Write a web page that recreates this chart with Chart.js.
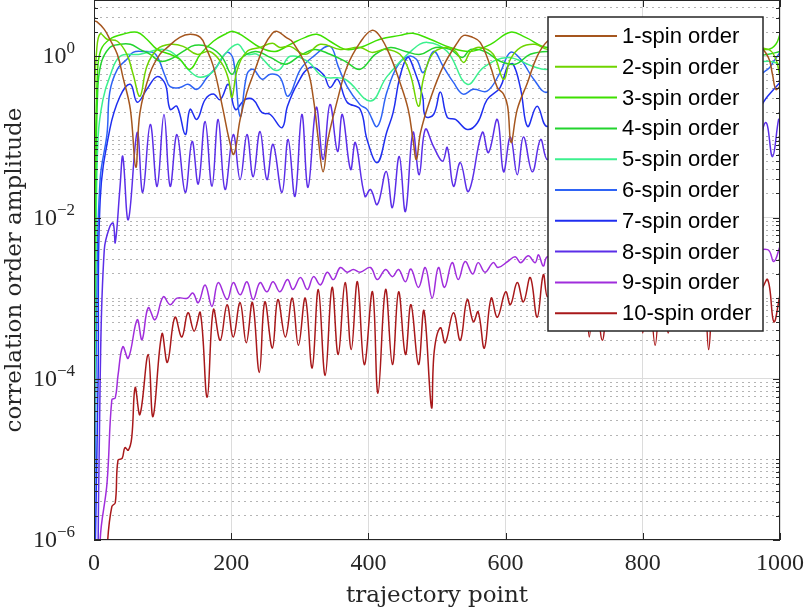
<!DOCTYPE html>
<html>
<head>
<meta charset="utf-8">
<script src="https://cdn.jsdelivr.net/npm/chart.js@4.4.0/dist/chart.umd.min.js"></script>
<style>
  html, body { margin: 0; padding: 0; background: #fff; }
</style>
</head>
<body>
<canvas id="chart" width="805" height="611"></canvas>
<script>
"use strict";

// values: [trajectory point, amplitude]
const spin1 = [[0,2.72],[4,2.7],[15,2.16],[23,1.63],[34,1.06],[42,0.56],[53,0.22],[61,0.042],[67,0.2],[82,0.63],[96,1.06],[107,1.29],[125,1.72],[140,1.88],[155,1.72],[163,1.29],[174,0.75],[188,0.22],[197,0.093],[204,0.061],[213,0.165],[223,0.36],[235,0.69],[247,1.29],[260,1.93],[267,2.04],[280,1.72],[290,1.49],[311,0.69],[320,0.29],[327,0.093],[334,0.037],[341,0.093],[355,0.29],[369,0.75],[388,1.49],[405,2.1],[417,1.77],[432,1.0],[446,0.475],[458,0.22],[465,0.093],[470,0.0525],[476,0.114],[490,0.29],[509,0.75],[530,1.49],[539,1.82],[552,1.72],[563,1.49],[578,0.75],[588,0.41],[597,0.34],[603,0.24],[608,0.085],[617,0.22],[632,0.475],[646,1.0],[661,1.54],[680,1.8],[700,1.5],[720,0.6],[740,0.06],[760,0.5],[790,1.5],[810,1.9],[835,1.4],[855,0.5],[870,0.07],[890,0.5],[915,1.5],[940,1.9],[965,1.5],[983,0.97],[989,0.6],[994,0.39],[1000,0.42]];
const spin2 = [[0,0.25],[4,1.22],[9,1.9],[19,1.63],[34,1.54],[48,1.06],[57,0.6],[67,0.32],[77,0.75],[92,1.22],[111,1.41],[130,1.33],[150,1.06],[169,1.15],[187,0.8],[196,0.52],[201,0.31],[209,0.69],[223,1.15],[242,1.29],[260,1.45],[271,1.29],[286,1.33],[308,1.06],[330,1.41],[359,1.22],[388,1.29],[405,1.12],[425,1.22],[446,1.06],[461,0.6],[473,0.24],[480,0.52],[493,1.06],[512,1.29],[527,1.15],[539,0.84],[549,1.15],[563,1.29],[582,1.06],[597,0.52],[607,0.92],[622,1.29],[643,1.41],[661,1.22],[700,1.2],[750,0.5],[800,1.2],[850,1.1],[900,0.6],[950,1.2],[983,1.22],[994,0.92],[1000,0.56]];
const spin3 = [[0,3e-4],[2,0.05],[5,0.6],[10,1.2],[23,1.63],[42,1.88],[63,1.99],[77,1.63],[92,1.22],[111,1.06],[125,0.92],[140,0.69],[155,1.06],[174,1.54],[191,1.88],[203,2.04],[220,1.72],[242,1.29],[264,1.15],[286,1.41],[308,1.72],[325,1.88],[344,1.54],[366,1.22],[388,1.29],[417,1.63],[446,1.82],[465,1.93],[490,1.63],[519,1.29],[549,1.15],[578,1.41],[607,1.99],[629,1.72],[661,1.29],[700,1.5],[750,1.9],[800,1.3],[850,1.6],[900,1.9],[950,1.3],[983,1.22],[994,1.41],[1000,1.88]];
const spin4 = [[0,1e-5],[2,0.01],[5,0.3],[10,0.8],[23,1.29],[38,1.41],[53,1.41],[67,1.22],[82,1.06],[96,0.87],[111,0.92],[130,1.15],[147,1.37],[169,1.29],[187,0.97],[201,0.6],[213,0.92],[235,1.15],[257,0.97],[279,0.8],[301,1.03],[322,1.22],[344,1.06],[366,0.87],[388,0.69],[410,1.06],[432,1.29],[454,1.15],[476,1.06],[498,1.29],[519,1.22],[537,0.97],[549,1.22],[570,1.15],[592,0.87],[614,0.8],[636,1.06],[661,1.15],[700,1.1],[750,0.9],[800,1.2],[850,0.8],[900,1.1],[950,1.0],[983,1.06],[1000,1.15]];
const spin5 = [[0,1e-6],[3,0.005],[6,0.1],[13,0.29],[23,0.56],[38,1.0],[67,1.06],[101,1.22],[121,1.0],[140,0.65],[155,0.55],[174,0.65],[188,1.0],[209,1.41],[223,1.06],[238,1.06],[261,0.69],[271,0.69],[286,1.0],[311,0.87],[334,0.56],[366,0.52],[403,0.28],[427,0.56],[465,1.22],[486,1.49],[515,1.15],[544,0.45],[568,0.73],[603,0.97],[640,0.75],[661,0.69],[700,0.9],[750,0.6],[800,1.0],[850,0.7],[900,0.5],[950,0.8],[983,0.87],[1000,0.8]];
const spin6 = [[0,1e-7],[4,1e-3],[9,0.03],[19,0.11],[23,0.36],[34,0.69],[48,0.92],[57,1.12],[71,1.15],[86,1.12],[93,0.97],[104,0.56],[111,0.42],[125,0.41],[137,0.45],[150,0.39],[165,0.55],[179,0.75],[194,1.12],[203,0.92],[213,0.18],[223,0.6],[232,0.69],[245,0.52],[257,0.6],[271,0.55],[283,0.32],[301,0.69],[320,1.0],[344,1.33],[356,0.75],[369,0.42],[388,0.25],[398,0.22],[413,0.135],[427,0.36],[442,0.75],[458,1.0],[470,0.92],[480,0.63],[495,1.15],[509,0.75],[524,0.475],[538,0.34],[553,0.39],[573,0.37],[592,0.63],[607,1.12],[622,0.92],[641,0.52],[661,0.36],[700,0.8],[750,0.35],[800,0.9],[850,0.4],[900,0.7],[950,0.5],[982,0.69],[991,0.87],[1000,1.12]];
const spin7 = [[0,1e-7],[6,1e-4],[9,0.0167],[23,0.124],[38,0.32],[53,0.45],[63,0.27],[77,0.39],[92,0.56],[104,0.45],[111,0.22],[121,0.24],[133,0.107],[140,0.22],[150,0.165],[162,0.29],[174,0.34],[184,0.29],[196,0.45],[206,0.22],[220,0.29],[232,0.29],[245,0.2],[257,0.19],[274,0.13],[282,0.24],[296,0.45],[315,0.73],[334,0.6],[344,0.41],[355,0.52],[369,0.27],[388,0.22],[398,0.093],[413,0.048],[427,0.117],[436,0.2],[446,0.56],[457,0.97],[465,0.75],[479,0.32],[483,0.18],[495,0.19],[505,0.36],[515,0.175],[527,0.165],[544,0.124],[559,0.15],[573,0.29],[592,0.41],[603,0.75],[611,0.8],[622,0.39],[632,0.135],[646,0.24],[661,0.135],[700,0.3],[750,0.1],[800,0.35],[850,0.12],[900,0.3],[950,0.15],[982,0.32],[1000,0.475]];
const spin8 = [[5,1e-7],[9,1e-4],[15,0.004],[23,0.0077],[28,0.0085],[31,0.0049],[38,0.0244],[42,0.0573],[50,0.0094],[63,0.114],[71,0.0205],[82,0.143],[92,0.0244],[102,0.19],[111,0.0244],[121,0.107],[133,0.0205],[143,0.088],[152,0.026],[162,0.156],[172,0.0244],[181,0.165],[191,0.0223],[203,0.107],[213,0.0296],[223,0.107],[232,0.032],[242,0.117],[252,0.0296],[261,0.081],[274,0.0205],[283,0.093],[293,0.0183],[303,0.19],[312,0.0237],[324,0.233],[334,0.0525],[344,0.253],[355,0.066],[362,0.19],[374,0.0394],[381,0.085],[395,0.0183],[403,0.0223],[413,0.0145],[426,0.0373],[435,0.0133],[445,0.0573],[454,0.0119],[465,0.114],[474,0.034],[483,0.124],[495,0.076],[508,0.05],[515,0.074],[524,0.0244],[534,0.048],[546,0.0211],[566,0.114],[575,0.064],[588,0.165],[597,0.037],[607,0.1],[617,0.034],[626,0.1],[639,0.037],[651,0.093],[661,0.0525],[680,0.1],[720,0.05],[760,0.1],[800,0.05],[840,0.1],[880,0.05],[920,0.1],[960,0.05],[979,0.151],[989,0.057],[998,0.165],[1000,0.16]];
const spin9 = [[0,1e-9],[9,1e-6],[19,5.1e-6],[26,5.5e-5],[31,5.8e-5],[35,1.1e-4],[42,2.5e-4],[50,1.8e-4],[63,5.4e-4],[70,3.05e-4],[79,7.6e-4],[89,5.4e-4],[101,1.04e-3],[111,8.3e-4],[121,1.0e-3],[136,1.0e-3],[144,1.16e-3],[152,8.8e-4],[162,1.46e-3],[172,7.9e-4],[181,1.56e-3],[194,9.6e-4],[203,1.56e-3],[213,1.1e-3],[223,1.6e-3],[232,9.6e-4],[242,1.56e-3],[252,1.2e-3],[261,1.6e-3],[271,1.2e-3],[282,1.7e-3],[290,1.28e-3],[301,1.8e-3],[311,1.28e-3],[320,1.85e-3],[330,1.46e-3],[340,2.1e-3],[349,1.7e-3],[359,2.4e-3],[369,2.1e-3],[378,2.27e-3],[388,2.1e-3],[403,2.4e-3],[413,1.7e-3],[425,2.27e-3],[435,1.85e-3],[444,2.27e-3],[454,1.6e-3],[462,2.3e-3],[473,1.36e-3],[483,2.4e-3],[493,1.0e-3],[502,2.4e-3],[511,1.36e-3],[522,2.76e-3],[531,1.7e-3],[541,2.85e-3],[552,2.0e-3],[560,2.76e-3],[570,2.1e-3],[582,2.76e-3],[589,2.4e-3],[603,2.85e-3],[614,3.27e-3],[622,2.76e-3],[633,3.35e-3],[643,2.76e-3],[648,3.45e-3],[655,2.5e-3],[661,3.27e-3],[700,3.5e-3],[750,3.2e-3],[800,3.8e-3],[850,3.5e-3],[900,4e-3],[950,3.6e-3],[982,4.0e-3],[991,2.85e-3],[1000,4.4e-3]];
const spin10 = [[0,1e-9],[20,1e-6],[26,2.6e-6],[31,2.9e-6],[35,9.8e-6],[41,1.03e-5],[45,1.4e-5],[50,1.3e-5],[55,1.86e-5],[60,7.8e-5],[67,3.6e-5],[79,2.0e-4],[86,3.4e-5],[99,3.6e-4],[107,1.6e-4],[118,5.8e-4],[128,3.3e-4],[137,6.6e-4],[146,3.9e-4],[155,6.6e-4],[165,5.9e-5],[174,7.2e-4],[184,3.0e-4],[194,8.3e-4],[203,3.3e-4],[213,8.8e-4],[222,2.8e-4],[231,8.8e-4],[241,1.2e-4],[249,9.0e-4],[260,2.4e-4],[268,9.6e-4],[279,3.3e-4],[289,1.0e-3],[298,2.6e-4],[308,1.0e-3],[318,1.36e-4],[327,1.28e-3],[337,1.1e-4],[347,1.36e-3],[356,2.0e-4],[366,1.56e-3],[375,2.3e-4],[384,1.6e-3],[394,1.5e-4],[406,1.2e-3],[414,6.6e-5],[425,1.28e-3],[435,1.5e-4],[444,1.2e-3],[454,2.0e-4],[462,8.3e-4],[473,1.5e-4],[481,7.0e-4],[492,4.4e-5],[496,2.2e-4],[505,4.3e-4],[512,2.8e-4],[524,6.6e-4],[534,3.0e-4],[544,9.6e-4],[553,5.1e-4],[560,6.8e-4],[569,2.4e-4],[579,1.0e-3],[588,5.8e-4],[600,1.2e-3],[607,8.3e-4],[617,1.56e-3],[626,9.0e-4],[636,1.8e-3],[646,5.8e-4],[655,1.96e-3],[661,1.04e-3],[672,1.9e-3],[685,6e-4],[697,2e-3],[710,7e-4],[716,2e-3],[722,3.3e-4],[730,2e-3],[741,3.0e-4],[752,2e-3],[765,7e-4],[778,2e-3],[790,8e-4],[795,2e-3],[800,3.7e-4],[808,2e-3],[818,2.6e-4],[827,2e-3],[837,3.7e-4],[847,2e-3],[860,6e-4],[872,2e-3],[885,7e-4],[890,2e-3],[896,2.3e-4],[905,2e-3],[918,6e-4],[930,2e-3],[945,7e-4],[960,2e-3],[970,1.2e-3],[982,1.7e-3],[991,5.1e-4],[1000,1.1e-3]];

const seriesData = [spin1, spin2, spin3, spin4, spin5, spin6, spin7, spin8, spin9, spin10];
const seriesLabels = ['1-spin order', '2-spin order', '3-spin order', '4-spin order', '5-spin order',
                      '6-spin order', '7-spin order', '8-spin order', '9-spin order', '10-spin order'];
const seriesColors = ['#a5561e', '#6fd400', '#3ee000', '#22d42e', '#3cf08e',
                      '#2e63f5', '#1f2ef0', '#5b2ee8', '#a02ddc', '#a8181a'];

const xTicks = [0, 200, 400, 600, 800, 1000];
const yMajorTicks = [1e-6, 1e-4, 1e-2, 1];
const yTickBase = '10';
const yTickExps = ['\u22126', '\u22124', '\u22122', '0'];

const yMin = 1e-6, yMax = 5;
const serif = '"Liberation Serif", "DejaVu Serif", serif';
const titleSerif = '"DejaVu Serif", "Liberation Serif", serif';
const sans = '"Liberation Sans", Arial, sans-serif';
const axisColor = '#262626';

// minor grid: every 1..9 x 10^k that is not a labelled tick
const yMinorTicks = [];
for (let e = -6; e <= 0; e++) {
    for (let m = 1; m <= 9; m++) {
        const v = m * Math.pow(10, e);
        if (v > yMax) break;
        if (!yMajorTicks.some(t => Math.abs(t - v) / v < 1e-9)) yMinorTicks.push(v);
    }
}

const frameAndTicks = {
    id: 'frameAndTicks',
    afterDatasetsDraw(chart) {
        const { ctx, chartArea: a, scales } = chart;
        ctx.save();
        ctx.strokeStyle = axisColor;
        ctx.lineWidth = 1;
        ctx.beginPath();
        xTicks.forEach(v => {
            const px = Math.round(scales.x.getPixelForValue(v)) + 0.5;
            ctx.moveTo(px, a.bottom); ctx.lineTo(px, a.bottom - 7);
            ctx.moveTo(px, a.top); ctx.lineTo(px, a.top + 7);
        });
        yMinorTicks.forEach(v => {
            const py = Math.round(scales.y.getPixelForValue(v)) + 0.5;
            ctx.moveTo(a.left, py); ctx.lineTo(a.left + 4, py);
            ctx.moveTo(a.right, py); ctx.lineTo(a.right - 4, py);
        });
        yMajorTicks.forEach(v => {
            const py = Math.round(scales.y.getPixelForValue(v)) + 0.5;
            ctx.moveTo(a.left, py); ctx.lineTo(a.left + 7, py);
            ctx.moveTo(a.right, py); ctx.lineTo(a.right - 7, py);
        });
        ctx.stroke();
        ctx.strokeRect(Math.round(a.left) + 0.5, Math.round(a.top) + 0.5,
                       Math.round(a.width) - 1, Math.round(a.height) - 1);
        ctx.restore();
    }
};

const powerLabels = {
    id: 'powerLabels',
    afterDraw(chart) {
        const ctx = chart.ctx;
        const y = chart.scales.y;
        const right = chart.chartArea.left - 19;
        ctx.save();
        ctx.fillStyle = axisColor;
        ctx.textBaseline = 'alphabetic';
        yMajorTicks.forEach((v, i) => {
            const py = y.getPixelForValue(v);
            ctx.font = '17px ' + serif;
            const ew = ctx.measureText(yTickExps[i]).width;
            ctx.textAlign = 'left';
            ctx.fillText(yTickExps[i], right - ew, py - 3);
            ctx.font = '24px ' + serif;
            ctx.textAlign = 'right';
            ctx.fillText(yTickBase, right - ew, py + 7);
        });
        ctx.restore();
    }
};

const boxLegend = {
    id: 'boxLegend',
    afterDraw(chart) {
        const ctx = chart.ctx;
        const a = chart.chartArea;
        const left = a.right - 232, top = a.top + 17, w = 215, h = 314;
        const rowH = 30.8, firstRow = top + 19;
        ctx.save();
        ctx.fillStyle = '#fff';
        ctx.fillRect(left, top, w, h);
        ctx.strokeStyle = '#262626';
        ctx.lineWidth = 1.5;
        ctx.strokeRect(left, top, w, h);
        ctx.font = '22px ' + sans;
        ctx.textAlign = 'left';
        ctx.textBaseline = 'middle';
        chart.data.datasets.forEach((ds, i) => {
            const ry = firstRow + i * rowH;
            ctx.strokeStyle = ds.borderColor;
            ctx.lineWidth = 2;
            ctx.beginPath();
            ctx.moveTo(left + 7, ry);
            ctx.lineTo(left + 69, ry);
            ctx.stroke();
            ctx.fillStyle = '#000';
            ctx.fillText(ds.label, left + 74, ry + 1);
        });
        ctx.restore();
    }
};

new Chart(document.getElementById('chart'), {
    type: 'line',
    data: {
        datasets: seriesData.map((s, i) => ({
            label: seriesLabels[i],
            data: s.map(p => ({ x: p[0], y: p[1] })),
            borderColor: seriesColors[i],
            backgroundColor: seriesColors[i],
            borderWidth: 1.5,
            pointRadius: 0,
            tension: 0.4,
            fill: false
        }))
    },
    options: {
        responsive: false,
        animation: false,
        layout: { padding: { left: 0, right: 25, top: 0, bottom: 0 } },
        plugins: { legend: { display: false }, tooltip: { enabled: false } },
        scales: {
            x: {
                type: 'linear', min: 0, max: 1000,
                afterBuildTicks: s => { s.ticks = xTicks.map(v => ({ value: v })); },
                afterFit: s => { s.height = 71; s.paddingLeft = 0; s.paddingRight = 0; },
                ticks: { color: axisColor, font: { family: serif, size: 24 }, padding: 9, maxRotation: 0,
                         callback: v => String(v) },
                grid: { color: '#dcdcdc', drawTicks: false },
                border: { display: false },
                title: { display: true, text: 'trajectory point', color: axisColor,
                         font: { family: titleSerif, size: 23 }, padding: { top: 0, bottom: 1 } }
            },
            y: {
                type: 'logarithmic', position: 'left', min: yMin, max: yMax,
                afterBuildTicks: s => { s.ticks = yMajorTicks.map(v => ({ value: v })); },
                afterFit: s => { s.width = 94; s.paddingTop = 0; s.paddingBottom = 0; },
                ticks: { display: false },
                grid: { color: '#dcdcdc', drawTicks: false },
                border: { display: false },
                title: { display: true, text: 'correlation order amplitude', color: axisColor,
                         font: { family: titleSerif, size: 23 }, padding: { top: 1, bottom: 0 } }
            },
            yMinor: {
                type: 'logarithmic', position: 'left', min: yMin, max: yMax,
                afterBuildTicks: s => { s.ticks = yMinorTicks.map(v => ({ value: v })); },
                afterFit: s => { s.width = 0; s.paddingTop = 0; s.paddingBottom = 0; },
                ticks: { display: false },
                grid: { color: '#b4b4b4', drawTicks: false },
                border: { display: false, dash: [2, 4] }
            }
        }
    },
    plugins: [frameAndTicks, powerLabels, boxLegend]
});
</script>
</body>
</html>
